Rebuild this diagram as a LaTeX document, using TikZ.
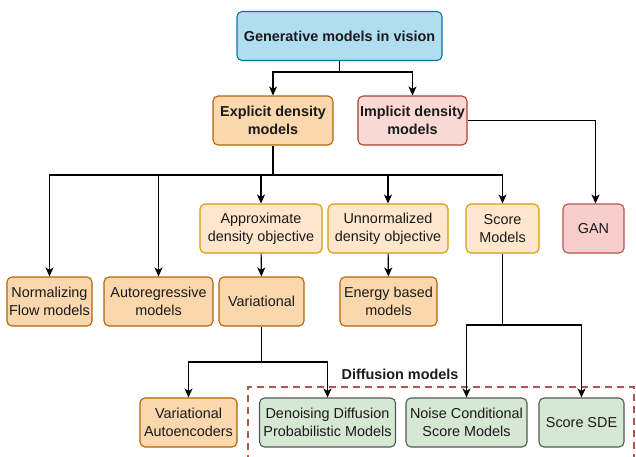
\documentclass[tikz,border=0pt]{standalone}
\usepackage{fontspec}
\setmainfont{Liberation Sans}
\usetikzlibrary{positioning,arrows.meta}
\definecolor{blueFill}{HTML}{B1DDF0}
\definecolor{blueLine}{HTML}{10739E}
\definecolor{orFill}{HTML}{FAD7AC}
\definecolor{orLine}{HTML}{B46504}
\definecolor{ltFill}{HTML}{FFE6CC}
\definecolor{ltLine}{HTML}{D79B00}
\definecolor{pkFill}{HTML}{FAD9D5}
\definecolor{pkLine}{HTML}{AE4132}
\definecolor{rdFill}{HTML}{F8CECC}
\definecolor{rdLine}{HTML}{B85450}
\definecolor{grFill}{HTML}{D5E8D4}
\definecolor{grLine}{HTML}{4F5B52}
\definecolor{txt}{HTML}{1A1A1A}

\begin{document}
\begin{tikzpicture}[
  x=1pt, y=-1pt,
  every node/.style={font=\fontsize{14.4}{18}\selectfont, text=txt},
  box/.style={draw, line width=1.1pt, rounded corners=5pt, align=center, minimum height=49pt, inner sep=0pt},
  topbox/.style={box, fill=blueFill, draw=blueLine, font=\fontsize{14.4}{18}\selectfont\bfseries},
  expbox/.style={box, fill=orFill, draw=orLine},
  objbox/.style={box, fill=ltFill, draw=ltLine},
  impbox/.style={box, fill=pkFill, draw=pkLine},
  ganbox/.style={box, fill=rdFill, draw=rdLine},
  difbox/.style={box, fill=grFill, draw=grLine},
  arr/.style={-{Stealth[length=9pt, width=8pt, inset=2.5pt]}, line width=1.1pt, draw=black},
  ln/.style={line width=1.1pt, draw=black}
]
\useasboundingbox (0,0) rectangle (636,456);

% Row 1: root
\node[topbox, minimum width=205pt] (gen) at (339.5,36) {Generative models in vision};

% Row 2: explicit / implicit
\node[expbox, minimum width=120pt, font=\fontsize{14.4}{18}\selectfont\bfseries] (expl) at (273,120.5) {Explicit density\\models};
\node[impbox, minimum width=109pt, font=\fontsize{14.4}{18}\selectfont\bfseries] (impl) at (412.5,120.5) {Implicit density\\models};

% Row 3: objectives and GAN
\node[objbox, minimum width=122pt] (approx) at (261,228.5) {Approximate\\density objective};
\node[objbox, minimum width=120pt] (unnorm) at (388,228.5) {Unnormalized\\density objective};
\node[objbox, minimum width=73pt] (score) at (502.5,228.5) {Score\\Models};
\node[ganbox, minimum width=61pt] (gan) at (593.5,228.5) {GAN};

% Row 4: explicit model families
\node[expbox, minimum width=85pt] (flow) at (49.5,301.5) {Normalizing\\Flow models};
\node[expbox, minimum width=109pt] (autoreg) at (158.5,301.5) {Autoregressive\\models};
\node[expbox, minimum width=85pt] (var) at (261.5,301.5) {Variational};
\node[expbox, minimum width=97pt] (energy) at (388.5,301.5) {Energy based\\models};

% Row 5: VAE and diffusion models
\node[expbox, minimum width=97pt] (vae) at (188.5,422.5) {Variational\\Autoencoders};
\node[difbox, minimum width=136pt] (ddpm) at (327.5,422.5) {Denoising Diffusion\\Probabilistic Models};
\node[difbox, minimum width=121pt] (ncsm) at (466.5,422.5) {Noise Conditional\\Score Models};
\node[difbox, minimum width=85pt] (sde) at (581.5,422.5) {Score SDE};

% Diffusion group
\draw[rdLine, line width=1.8pt, dash pattern=on 7pt off 5pt] (248,462) -- (248,387) -- (634,387) -- (634,462);
\node[font=\fontsize{14.4}{18}\selectfont\bfseries] (diflabel) at (400,374) {Diffusion models};

% Junctions
\coordinate (jroot) at (339.5,72);
\coordinate (jexp) at (273,175);
\coordinate (jvar) at (261.5,362);
\coordinate (jscore) at (502.5,325);

% Connections
\draw[ln] (gen) -- (jroot);
\draw[arr] (jroot) -| (expl);
\draw[arr] (jroot) -| (impl);
\draw[ln] (expl) -- (jexp);
\draw[arr] (jexp) -| (flow);
\draw[arr] (jexp) -| (autoreg);
\draw[arr] (jexp) -| (approx);
\draw[arr] (jexp) -| (unnorm);
\draw[arr] (jexp) -| (score);
\draw[arr] (impl.east) -| ([xshift=2pt]gan.north);
\draw[arr] (approx) -- (var);
\draw[arr] (unnorm) -- (energy);
\draw[ln] (var) -- (jvar);
\draw[arr] (jvar) -| (vae);
\draw[arr] (jvar) -| (ddpm);
\draw[ln] (score) -- (jscore);
\draw[arr] (jscore) -| (ncsm);
\draw[arr] (jscore) -| (sde);
\end{tikzpicture}
\end{document}
